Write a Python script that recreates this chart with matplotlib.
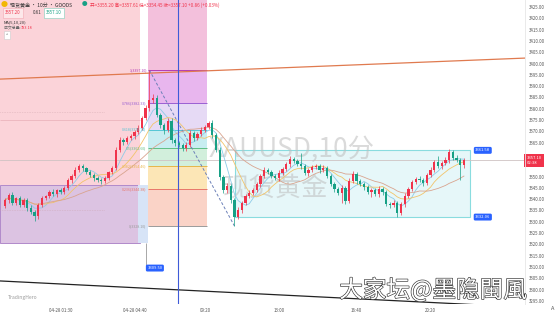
import numpy as np
import pandas as pd
import matplotlib.pyplot as plt
import matplotlib.patheffects as pe
from matplotlib.patches import Rectangle

plt.rcParams['font.family'] = ['Noto Sans CJK SC', 'DejaVu Sans']

# ---- data (10 min candles) ----
closes = [3339.6, 3341.8, 3338.3, 3340.5, 3337.4, 3339.6, 3336.1, 3334.3, 3332.5, 3337.4,
          3340.5, 3341.4, 3343.1, 3342.3, 3344.0, 3343.1, 3344.9, 3348.4, 3350.2, 3352.9,
          3354.6, 3353.8, 3352.0, 3350.7, 3349.3, 3348.4, 3348.0, 3349.3, 3352.0, 3353.8,
          3361.7, 3366.2, 3365.3, 3367.0, 3367.9, 3369.7, 3371.5, 3375.9, 3380.3, 3383.9,
          3384.7, 3377.2, 3372.8, 3370.6, 3374.6, 3366.2, 3364.8, 3363.9, 3362.6, 3363.9,
          3369.2, 3367.0, 3368.8, 3370.6, 3371.9, 3373.7, 3368.4, 3361.7, 3349.8, 3344.0,
          3345.8, 3339.6, 3332.1, 3335.2, 3338.3, 3341.4, 3342.7, 3344.0, 3346.7, 3350.2,
          3352.9, 3352.0, 3350.2, 3349.3, 3351.5, 3353.3, 3355.5, 3357.7, 3356.9, 3355.5,
          3354.6, 3351.5, 3352.9, 3354.2, 3354.6, 3352.9, 3353.8, 3350.2, 3346.7, 3344.5,
          3342.7, 3344.9, 3339.2, 3348.0, 3351.1, 3348.0, 3346.7, 3345.4, 3343.1, 3344.0,
          3342.3, 3344.5, 3343.1, 3337.8, 3337.4, 3338.3, 3333.8, 3337.8, 3341.4, 3344.5,
          3347.6, 3348.9, 3348.4, 3347.1, 3350.7, 3352.9, 3356.4, 3354.6, 3356.0, 3357.3,
          3360.8, 3358.2, 3357.3, 3355.1, 3357.1]
first_open = 3337.0
wick_up = [1.0, 0.8, 1.2, 0.6, 1.0, 0.9, 0.7, 1.1, 0.8, 0.9,
           1.0, 0.6, 0.9, 1.2, 0.7, 1.0, 0.8, 1.1, 0.9, 1.3,
           1.0, 0.8, 0.6, 0.9, 0.7, 0.8, 1.0, 0.9, 0.6, 0.8,
           1.2, 1.5, 1.0, 0.9, 1.1, 0.8, 1.2, 1.0, 1.4, 13.2,
           2.0, 1.2, 0.8, 1.0, 1.5, 1.1, 0.8, 0.9, 1.0, 1.2,
           1.4, 1.0, 0.9, 1.1, 0.8, 1.0, 1.2, 0.9, 1.5, 1.0,
           1.2, 1.0, 0.8, 1.2, 1.0, 0.9, 1.3, 1.1, 0.8, 1.0,
           1.5, 1.0, 0.8, 0.9, 1.2, 1.0, 0.9, 1.3, 1.0, 0.8,
           5.0, 1.0, 0.9, 1.1, 0.8, 1.0, 1.2, 0.9, 0.7, 1.0,
           0.8, 1.2, 1.0, 1.5, 1.2, 0.9, 0.8, 1.0, 0.7, 1.1,
           0.9, 1.3, 1.0, 0.8, 1.0, 1.2, 0.9, 1.0, 1.1, 0.8,
           1.0, 0.9, 1.2, 1.0, 0.8, 1.4, 1.0, 2.5, 1.0, 1.2,
           1.5, 1.0, 1.2, 0.9, 1.3]
wick_dn = [1.0, 1.2, 0.8, 1.1, 0.9, 1.0, 1.3, 1.0, 2.0, 1.2,
           0.9, 1.1, 1.0, 0.8, 1.2, 0.9, 1.0, 0.8, 1.1, 0.9,
           1.0, 1.2, 0.9, 1.0, 1.1, 0.8, 1.3, 1.0, 0.9, 1.0,
           1.0, 0.8, 1.2, 1.0, 0.9, 1.1, 0.8, 1.0, 0.9, 1.2,
           1.5, 1.0, 1.2, 1.8, 1.0, 1.2, 1.5, 1.0, 1.3, 1.1,
           1.0, 1.2, 0.9, 1.0, 1.1, 0.8, 1.2, 1.0, 1.4, 1.5,
           1.2, 1.3, 4.0, 1.0, 1.2, 0.9, 1.1, 1.0, 0.9, 1.2,
           1.0, 1.1, 0.9, 1.0, 1.2, 0.8, 1.0, 1.1, 0.9, 1.0,
           1.2, 1.0, 1.1, 0.9, 1.0, 1.2, 1.0, 0.9, 1.1, 1.3,
           1.0, 4.5, 1.2, 1.0, 0.9, 1.1, 1.0, 1.2, 1.0, 2.0,
           1.0, 1.2, 1.1, 1.0, 1.3, 1.0, 1.5, 1.0, 1.2, 0.9,
           1.0, 1.1, 0.9, 1.2, 1.0, 0.9, 1.1, 1.0, 1.3, 1.0,
           1.2, 1.0, 1.0, 6.5, 1.5]

x_ticks = [15, 35, 54, 74, 95, 115]
x_labels = ['04-28 01:30', '04-28 04:40', '09:20', '13:00', '16:40', '20:20']
price_ticks = np.arange(3295, 3426, 5)

fib_ratios = [1, 0.786, 0.618, 0.5, 0.382, 0.236, 0]
fib_band_colors = ['#f3c0dc', '#e8b6ee', '#e6daf5', '#c8edf1', '#d2efdc', '#fce6b6', '#fad3c7']
fib_line_colors = ['#b43cb4', '#9a5fd2', '#55c6d6', '#5fbf86', '#e6b64a', '#e8786a', '#9a9a9a']
fib_span = (38.6, 54.6)
fib_high_bar, fib_low_bar = 39, 62

trend_orange = ([-1.35, 140.5], [3393.1, 3402.4])
trend_black = ([-1.35, 140.5], [3303.8, 3292.2])
box_right = (62.2, 125.7, 3332.06, 3361.58)
vline_blue = 46.8
vline_gray = (38.1, 3320.6, 3309.5)
last_price = 3357.10

# ---- derived ----
n = len(closes)
idx = np.arange(n)
c = np.array(closes)
o = np.array([first_open] + closes[:-1])
h = np.maximum(o, c) + np.array(wick_up)
l = np.minimum(o, c) - np.array(wick_dn)
up = c >= o
ma5 = pd.Series(c).rolling(5, min_periods=1).mean()
ma10 = pd.Series(c).rolling(10, min_periods=1).mean()
ma20 = pd.Series(c).rolling(20, min_periods=1).mean()

fig = plt.figure(figsize=(5.6, 3.15), dpi=100)
ax = fig.add_axes([0, 11 / 315, 525 / 560, 304 / 315])
ax.set_xlim(-1.35, 140.5)
ax.set_ylim(3293.6, 3428.1)

# left pink / purple zones
ax.add_patch(Rectangle((-1.35, 3346.2), 37.85, 90, color='#fbd3d9', lw=0, zorder=0))
ax.add_patch(Rectangle((-1.35, 3320.6), 37.85, 25.6, facecolor='#dcc3e2', edgecolor='#a77cc4', lw=0.6, zorder=0))
ax.add_patch(Rectangle((36.0, 3320.6), 2.6, 25.6, color='#d7e4f7', lw=0, zorder=0))
ax.hlines(3375.0, -1.35, 36.5, color='#e3a6ae', lw=0.4, zorder=1)
ax.hlines([3378.6, 3335.2], -1.35, 27, color='#c9a0a8', lw=0.4, ls=(0, (1, 2)), zorder=1)

# fibonacci retracement
f_hi = h[fib_high_bar]
f_lo = l[fib_low_bar]
levels = [f_lo + r * (f_hi - f_lo) for r in fib_ratios]
tops = [3428.1] + levels[:-1]
for top, bot, fc in zip(tops, levels, fib_band_colors):
    ax.add_patch(Rectangle((fib_span[0], bot), fib_span[1] - fib_span[0], top - bot, color=fc, lw=0, zorder=0))
for r, lv, lc in zip(fib_ratios, levels, fib_line_colors):
    ax.hlines(lv, fib_span[0], fib_span[1], color=lc, lw=0.7, zorder=1)
    ax.text(fib_span[0] - 0.3, lv, f'{r:g}({lv:.2f})', fontsize=2.6, color=lc, ha='right', va='center', zorder=5)
ax.plot([fib_high_bar, fib_low_bar], [f_hi, f_lo], ls=(0, (3, 2)), color='#6c80b8', lw=0.7, zorder=3)

# right box
bx0, bx1, by0, by1 = box_right
ax.add_patch(Rectangle((bx0, by0), bx1 - bx0, by1 - by0, facecolor='#e6f7f9', edgecolor='#8adcdf', lw=0.8, zorder=0))
for p in (by1, by0):
    ax.text(bx1 + 3.4, p, f'{p:.2f}', fontsize=3.0, color='white', ha='center', va='center', zorder=6,
            bbox=dict(boxstyle='round,pad=0.35', fc='#2962ff', ec='none'))

# lines
ax.axhline(last_price, color='#cfc3c3', lw=0.6, zorder=1)
ax.plot(*trend_orange, color='#e07a4f', lw=0.9, zorder=2)
ax.plot(*trend_black, color='#222222', lw=0.9, zorder=2)
ax.axvline(vline_blue, color='#3f5bd8', lw=0.8, zorder=4)
ax.vlines(vline_gray[0], vline_gray[2], vline_gray[1], color='#9a9a9a', lw=0.6, zorder=2)
ax.text(vline_gray[0] + 2.4, vline_gray[2], f'{vline_gray[2]:.2f}', fontsize=3.0, color='white', ha='center',
        va='center', zorder=6, bbox=dict(boxstyle='round,pad=0.35', fc='#2962ff', ec='none'))

# watermarks
ax.text(77.5, 3362, 'XAUUSD,10分', fontsize=19, color='#bdbdbd', alpha=0.55, ha='center', va='center', zorder=2)
ax.text(73, 3345, '现货黄金', fontsize=19, color='#bdbdbd', alpha=0.55, ha='center', va='center', zorder=2)

# moving averages
ax.plot(idx, ma5, color='#8fcbe8', lw=0.6, zorder=3)
ax.plot(idx, ma10, color='#f2c46a', lw=0.6, zorder=3)
ax.plot(idx, ma20, color='#d9a48f', lw=0.6, zorder=3)

# candles
col = np.where(up, '#f0334b', '#17a085')
ax.vlines(idx, l, h, color=col, lw=0.5, zorder=4)
ax.bar(idx, np.maximum(np.abs(c - o), 0.3), bottom=np.minimum(o, c), width=0.62, color=col, lw=0, zorder=4)

# axes styling
for s in ax.spines.values():
    s.set_visible(False)
ax.yaxis.tick_right()
ax.set_yticks(price_ticks)
# the last-price tag covers the tick under it, as in the app
ax.set_yticklabels(['' if abs(p - last_price) < 3 else f'{p:.2f}' for p in price_ticks],
                   fontsize=3.2, color='#555555')
ax.set_xticks(x_ticks)
ax.set_xticklabels(x_labels, fontsize=3.2, color='#555555')
ax.tick_params(length=0, pad=3)
ax.text(1.003, last_price, f'{last_price:.2f}\n02:38', transform=ax.get_yaxis_transform(), fontsize=3.0,
        color='white', ha='left', va='center', linespacing=1.5, zorder=7, clip_on=False,
        bbox=dict(boxstyle='square,pad=0.5', fc='#f0334b', ec='none'))
fig.add_artist(plt.Line2D([525 / 560, 525 / 560], [11 / 315, 1], color='#e6e6e6', lw=0.6))
fig.text(553 / 560, 1 - 309 / 315, 'A', fontsize=4, color='#555555', ha='center', va='center')

# header
fig.text(4 / 560, 1 - 5 / 315, '●', fontsize=5, color='#f2b705', ha='center', va='center')
fig.text(10 / 560, 1 - 5 / 315, '现货黄金 · 10分 · GOODS', fontsize=3.6, color='#333333', va='center')
fig.text(84 / 560, 1 - 5 / 315, '●', fontsize=4, color='#17a085', ha='center', va='center')
fig.text(90 / 560, 1 - 5 / 315, '开=3355.20 高=3357.61 低=3354.45 收=3357.10 +0.86 (+0.03%)', fontsize=3.3,
         color='#f0334b', va='center')
fig.text(5 / 560, 1 - 13 / 315, '3357.20', fontsize=3.2, color='#f0334b', va='center',
         bbox=dict(boxstyle='square,pad=0.5', fc='#fde8ea', ec='#f3a9b3', lw=0.4))
fig.text(33 / 560, 1 - 13 / 315, '0.61', fontsize=3.2, color='#333333', va='center')
fig.text(46 / 560, 1 - 13 / 315, '3357.10', fontsize=3.2, color='#17a085', va='center',
         bbox=dict(boxstyle='square,pad=0.5', fc='white', ec='#7fcdbb', lw=0.4))
fig.text(4 / 560, 1 - 22 / 315, 'MA(5,10,20)', fontsize=3.0, color='#333333', va='center')
fig.text(4 / 560, 1 - 28 / 315, '成交总量: ', fontsize=2.8, color='#666666', va='center')
fig.text(21 / 560, 1 - 28 / 315, '783.18', fontsize=2.8, color='#f0334b', va='center')
fig.text(6 / 560, 1 - 35 / 315, '^', fontsize=3, color='#555555', va='center',
         bbox=dict(boxstyle='square,pad=0.4', fc='white', ec='#cccccc', lw=0.4))

fig.text(8 / 560, 1 - 297 / 315, 'TradingHero', fontsize=3.6, color='#9a9a9a', va='center')
fig.text(527 / 560, 1 - 290 / 315, '大家坛@墨隐閩風', fontsize=17, fontweight='light', color='white',
         ha='right', va='center', path_effects=[pe.withStroke(linewidth=0.9, foreground='#333333')], zorder=10)

fig.savefig('out.png', dpi=100, facecolor='white')
